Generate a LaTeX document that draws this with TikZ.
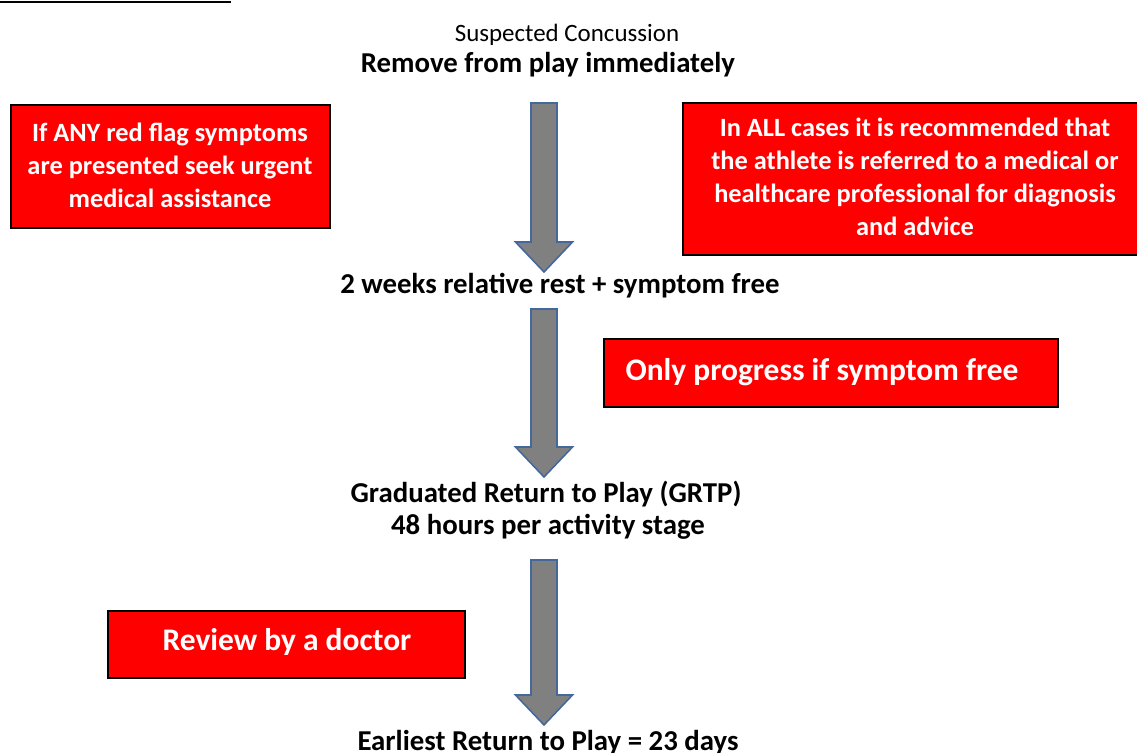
\documentclass[tikz,border=0pt]{standalone}
\usepackage{fontspec}
\setmainfont{Carlito}
\usetikzlibrary{calc}

\definecolor{flagred}{RGB}{255,0,0}
\definecolor{arrowgray}{RGB}{128,128,128}
\definecolor{arrowedge}{RGB}{68,104,156}

\tikzset{
  flagbox/.style={fill=flagred, draw=black, line width=1.1pt},
  flagtext/.style={text=white, align=center, inner sep=0pt,
    font=\fontsize{15}{18.7}\selectfont\bfseries},
  bigflag/.style={text=white, inner sep=0pt,
    font=\fontsize{17.9}{21}\selectfont\bfseries},
  flowtext/.style={align=center, inner sep=0pt,
    font=\fontsize{16.4}{18.5}\selectfont\bfseries},
  blockarrow/.style={fill=arrowgray, draw=arrowedge, line width=0.9pt},
}

% block arrow from top coordinate #1 down to tip coordinate #2
\newcommand{\downblock}[2]{%
  \draw [blockarrow] ($(#1)+(-13,0)$) -- ($(#2)+(-13,-30)$) -- ($(#2)+(-28.5,-30)$)
    -- (#2) -- ($(#2)+(28.5,-30)$) -- ($(#2)+(13,-30)$) -- ($(#1)+(13,0)$) -- cycle;
}

\begin{document}
\begin{tikzpicture}[x=0.02cm, y=-0.02cm]

      \useasboundingbox (0, 0) rectangle (1137, 753);

      % heading rule, cut off at the top edge
      \draw [line width=1.7pt] (0, 2) -- (231, 2);

      \node [inner sep=0pt, font=\fontsize{14.2}{17}\selectfont] (suspect) at (567, 35) {Suspected Concussion};
      \node [flowtext] (remove) at (548, 65) {Remove from play immediately};

      \draw [flagbox] (11, 105) rectangle (330, 228);
      \node [flagtext] (redflag) at (170, 165) {If ANY red flag symptoms\\are presented seek urgent\\medical assistance};

      \draw [flagbox] (683, 103) rectangle (1147, 255);
      \node [flagtext] (referral) at (915, 177) {In ALL cases it is recommended that\\the athlete is referred to a medical or\\healthcare professional for diagnosis\\and advice};

      \coordinate (top1) at (544, 103);
      \coordinate (tip1) at (544, 272);
      \downblock{top1}{tip1}

      \node [flowtext] (rest) at (560, 286) {2 weeks relative rest + symptom free};

      \draw [flagbox] (604, 339) rectangle (1058, 407);
      \node [bigflag] (progress) at (822, 372) {Only progress if symptom free};

      \coordinate (top2) at (544, 309);
      \coordinate (tip2) at (544, 477);
      \downblock{top2}{tip2}

      \node [flowtext] (grtp) at (546, 494) {Graduated Return to Play (GRTP)};
      \node [flowtext] (hours) at (548, 527) {48 hours per activity stage};

      \coordinate (top3) at (544, 560);
      \coordinate (tip3) at (544, 725);
      \downblock{top3}{tip3}

      \draw [flagbox] (108, 611) rectangle (465, 678);
      \node [bigflag] (review) at (287, 642) {Review by a doctor};

      \node [flowtext] (earliest) at (548, 743) {Earliest Return to Play = 23 days};
    \end{tikzpicture}
\end{document}
